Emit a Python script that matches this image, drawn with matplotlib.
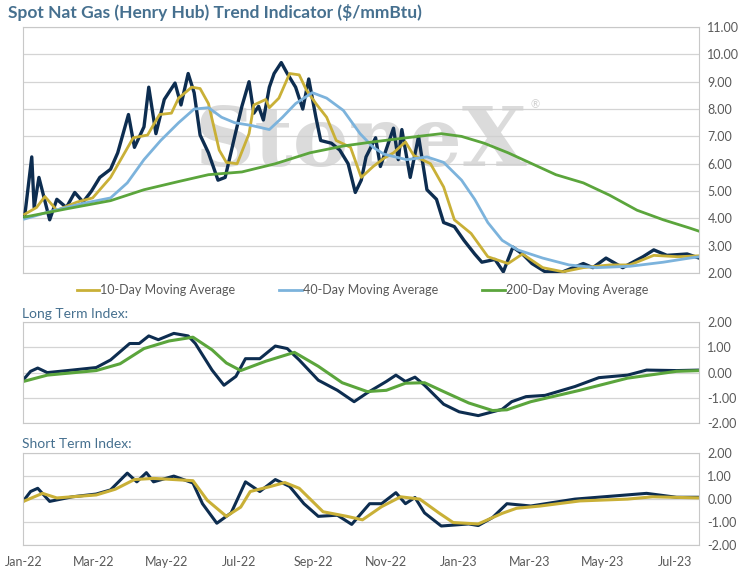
import numpy as np
import pandas as pd
import matplotlib
matplotlib.use("Agg")
import matplotlib.pyplot as plt
import matplotlib.dates as mdates

plt.rcParams['font.family'] = ['Lato', 'DejaVu Sans']

base = pd.Timestamp("2022-01-01")

# --- price panel (days since 2022-01-01, $/mmBtu) ---
price_days = [1, 7, 9, 13, 22, 28, 36, 43, 50, 57, 64, 73, 79, 88, 93, 101, 105, 111, 118, 127,
              132, 138, 143, 148, 155, 163, 169, 177, 183, 189, 193, 197, 201, 206, 210, 216, 221, 228, 234, 239,
              245, 249, 258, 265, 272, 278, 283, 287, 295, 299,
              310, 314, 317, 324, 331, 338, 346, 352, 361, 369, 378, 384, 395, 402, 410, 418, 426, 437, 452, 469,
              477, 488, 502, 519, 528, 539, 556, 566, 573]
price = [4.05, 6.25, 4.4, 5.5, 3.95, 4.7, 4.4, 4.95, 4.6, 5.0, 5.5, 5.8, 6.4, 7.8, 6.6, 7.35, 8.8, 7.1, 8.35, 8.95,
         8.15, 9.3, 8.6, 7.05, 6.4, 5.4, 5.5, 7.0, 8.1, 9.0, 7.85, 8.1, 7.6, 8.8, 9.3, 9.7, 9.3, 8.8, 8.0, 9.1,
         7.7, 6.85, 6.75, 6.5, 6.0, 4.95, 5.4, 6.25, 6.95, 5.9,
         7.3, 6.15, 7.25, 5.5, 7.0, 5.05, 4.7, 3.85, 3.7, 3.2, 2.7, 2.4, 2.5, 2.05, 2.95, 2.7, 2.35, 2.05, 2.05, 2.35,
         2.2, 2.55, 2.2, 2.6, 2.85, 2.65, 2.7, 2.55, 2.95]

ma10_days = [1, 11, 18, 28, 45, 58, 73, 92, 104, 114, 124, 130, 141, 148, 155, 164, 170, 179, 189, 193,
             203, 206, 214, 223, 231, 237, 245, 254, 262, 274, 283, 293, 302, 310, 320, 327, 341, 352, 361, 375,
             389, 406, 418, 435, 452, 469, 491, 508, 528, 548, 575]
ma10 = [4.15, 4.4, 4.8, 4.3, 4.6, 4.75, 5.5, 6.95, 7.05, 7.8, 7.85, 8.4, 8.8, 8.75, 8.2, 6.5, 6.05, 6.0, 7.1, 8.15,
        8.35, 8.05, 8.4, 9.3, 9.25, 8.7, 8.2, 7.7, 6.85, 6.6, 5.5, 5.9, 6.2, 6.4, 6.8, 6.3, 6.0, 5.15, 3.95, 3.45,
        2.6, 2.35, 2.7, 2.2, 2.05, 2.2, 2.3, 2.3, 2.65, 2.6, 2.65]

ma40_days = [1, 22, 50, 73, 87, 101, 115, 130, 143, 155, 166, 177, 191, 206, 217, 228, 242, 254, 268, 282,
             293, 302, 321, 338, 352, 367, 378, 389, 401, 414, 435, 457, 480, 508, 536, 558, 575]
ma40 = [3.98, 4.25, 4.55, 4.75, 5.3, 6.15, 6.85, 7.5, 8.0, 8.05, 7.7, 7.5, 7.4, 7.25, 7.7, 8.2, 8.6, 8.4, 7.95, 7.1,
        6.6, 6.35, 6.15, 6.25, 6.05, 5.4, 4.7, 3.85, 3.2, 2.85, 2.55, 2.3, 2.2, 2.25, 2.4, 2.55, 2.65]

ma200_days = [1, 36, 73, 101, 130, 155, 183, 211, 240, 268, 293, 321, 350, 367, 386, 406, 426, 446, 469, 491,
              514, 536, 558, 575]
ma200 = [4.05, 4.35, 4.65, 5.05, 5.35, 5.6, 5.7, 6.0, 6.4, 6.65, 6.8, 6.95, 7.1, 7.0, 6.75, 6.4, 6.0, 5.6, 5.3, 4.85,
         4.3, 3.95, 3.65, 3.4]

# --- long term index ---
lt_days = [0, 6, 12, 20, 41, 61, 73, 89, 97, 105, 113, 126, 138, 144, 158, 168, 178, 186, 198, 211,
           221, 231, 247, 263, 277, 288, 304, 312, 320, 328, 336, 352, 365, 381, 389, 401, 409, 421, 437, 462,
           482, 506, 522, 547, 567]
lt_idx = [-0.28, 0.05, 0.18, 0.0, 0.1, 0.2, 0.5, 1.15, 1.15, 1.45, 1.3, 1.55, 1.45, 1.15, 0.1, -0.5, -0.15, 0.55, 0.55, 1.05,
          0.95, 0.5, -0.3, -0.7, -1.15, -0.8, -0.35, -0.1, -0.35, -0.18, -0.5, -1.25, -1.55, -1.7, -1.6, -1.45, -1.15, -0.95, -0.9, -0.55,
          -0.2, -0.1, 0.1, 0.08, 0.1]
lt_sig_days = [0, 20, 61, 81, 101, 122, 142, 158, 170, 182, 203, 227, 247, 267, 288, 304, 320, 336, 352, 373,
               393, 405, 425, 466, 506, 547, 567]
lt_sig = [-0.35, -0.1, 0.08, 0.35, 0.95, 1.25, 1.4, 0.9, 0.38, 0.08, 0.45, 0.8, 0.25, -0.4, -0.75, -0.7, -0.42, -0.4, -0.75, -1.2,
          -1.5, -1.47, -1.15, -0.7, -0.22, 0.05, 0.08]

# --- short term index ---
st_days = [0, 6, 12, 22, 41, 61, 73, 87, 95, 103, 109, 126, 142, 150, 162, 174, 186, 198, 211, 223,
           235, 247, 263, 275, 290, 300, 312, 320, 328, 336, 350, 373, 381, 393, 405, 425, 462, 486, 522, 547, 567]
st_idx = [-0.08, 0.33, 0.47, -0.1, 0.1, 0.22, 0.4, 1.13, 0.75, 1.15, 0.75, 1.0, 0.7, -0.2, -1.05, -0.6, 0.75, 0.33, 0.85, 0.55,
          -0.2, -0.75, -0.7, -1.1, -0.2, -0.2, 0.28, -0.2, 0.07, -0.6, -1.17, -1.08, -1.15, -0.8, -0.2, -0.3, 0.0, 0.1, 0.25, 0.08, 0.08]
st_sig_days = [0, 16, 28, 61, 77, 93, 109, 126, 142, 154, 170, 182, 190, 207, 219, 231, 251, 271, 284, 300,
               316, 332, 348, 360, 381, 401, 413, 433, 466, 506, 527, 567]
st_sig = [-0.1, 0.25, 0.05, 0.18, 0.43, 0.85, 0.9, 0.85, 0.8, -0.05, -0.75, -0.35, 0.33, 0.55, 0.72, 0.47, -0.55, -0.75, -0.9, -0.33,
          0.1, 0.0, -0.6, -1.02, -1.08, -0.62, -0.4, -0.3, -0.08, 0.0, 0.1, 0.05]

NAVY = "#0d2d50"
GOLD = "#c9b037"
BLUE = "#7cb3dc"
GREEN = "#5ba53c"
GRID = "#d4d4d4"
TXT = "#595959"
HEAD = "#46708f"


def to_dates(days):
    return base + pd.to_timedelta(days, unit="D")


fig = plt.figure(figsize=(7.55, 5.75), dpi=100)
ax1 = fig.add_axes([0.031, 0.525, 0.895, 0.428])
ax2 = fig.add_axes([0.031, 0.264, 0.895, 0.176])
ax3 = fig.add_axes([0.031, 0.052, 0.895, 0.160])

xmin, xmax = base, pd.Timestamp("2023-07-21")

for ax in (ax1, ax2, ax3):
    ax.set_xlim(xmin, xmax)
    ax.yaxis.tick_right()
    ax.tick_params(axis="y", length=0, labelsize=9, colors=TXT, pad=6)
    ax.tick_params(axis="x", length=0, labelsize=9, colors=TXT)
    ax.grid(axis="y", color=GRID, lw=0.9)
    ax.set_axisbelow(True)
    for s in ax.spines.values():
        s.set_color("#c8c8c8")
    ax.xaxis.set_major_locator(mdates.MonthLocator(bymonth=[1, 3, 5, 7, 9, 11]))
    ax.xaxis.set_major_formatter(mdates.DateFormatter("%b-%y"))
    ax.yaxis.set_major_formatter(matplotlib.ticker.FormatStrFormatter("%.2f"))

ax1.set_ylim(2, 11)
ax1.set_yticks(np.arange(2, 12, 1))
ax1.set_xticklabels([])
ax1.text(0.5, 0.53, "StoneX", transform=ax1.transAxes, ha="center", va="center",
         fontsize=60, family="DejaVu Serif", fontweight="bold", color="#cfcfcf", alpha=0.75, zorder=1)
ax1.text(0.75, 0.67, "®", transform=ax1.transAxes, fontsize=8, color="#cfcfcf")
ax1.plot(to_dates(price_days), price, color=NAVY, lw=2.4, zorder=3)
l10, = ax1.plot(to_dates(ma10_days), ma10, color=GOLD, lw=2.0, zorder=4, label="10-Day Moving Average")
l40, = ax1.plot(to_dates(ma40_days), ma40, color=BLUE, lw=2.0, zorder=4, label="40-Day Moving Average")
l200, = ax1.plot(to_dates(ma200_days), ma200, color=GREEN, lw=2.0, zorder=4, label="200-Day Moving Average")
fig.legend(handles=[l10, l40, l200], loc="center", bbox_to_anchor=(0.48, 0.495), ncol=3, frameon=False,
           fontsize=9, labelcolor=TXT, handlelength=1.8, handletextpad=0.1, columnspacing=3.5)

ax2.set_ylim(-2, 2)
ax2.set_yticks([-2, -1, 0, 1, 2])
ax2.set_xticklabels([])
ax2.plot(to_dates(lt_days), lt_idx, color=NAVY, lw=2.2)
ax2.plot(to_dates(lt_sig_days), lt_sig, color=GREEN, lw=2.2)

ax3.set_ylim(-2, 2)
ax3.set_yticks([-2, -1, 0, 1, 2])
ax3.plot(to_dates(st_days), st_idx, color=NAVY, lw=2.2)
ax3.plot(to_dates(st_sig_days), st_sig, color=GOLD, lw=2.2)
ax3.tick_params(axis="x", pad=8)

fig.text(0.011, 0.979, "Spot Nat Gas (Henry Hub) Trend Indicator (\\$/mmBtu)", fontsize=12.5,
         fontweight="bold", color=HEAD, va="center")
fig.text(0.029, 0.454, "Long Term Index:", fontsize=10, color=HEAD, va="center")
fig.text(0.029, 0.228, "Short Term Index:", fontsize=10, color=HEAD, va="center")

fig.savefig("out.png", dpi=100)
